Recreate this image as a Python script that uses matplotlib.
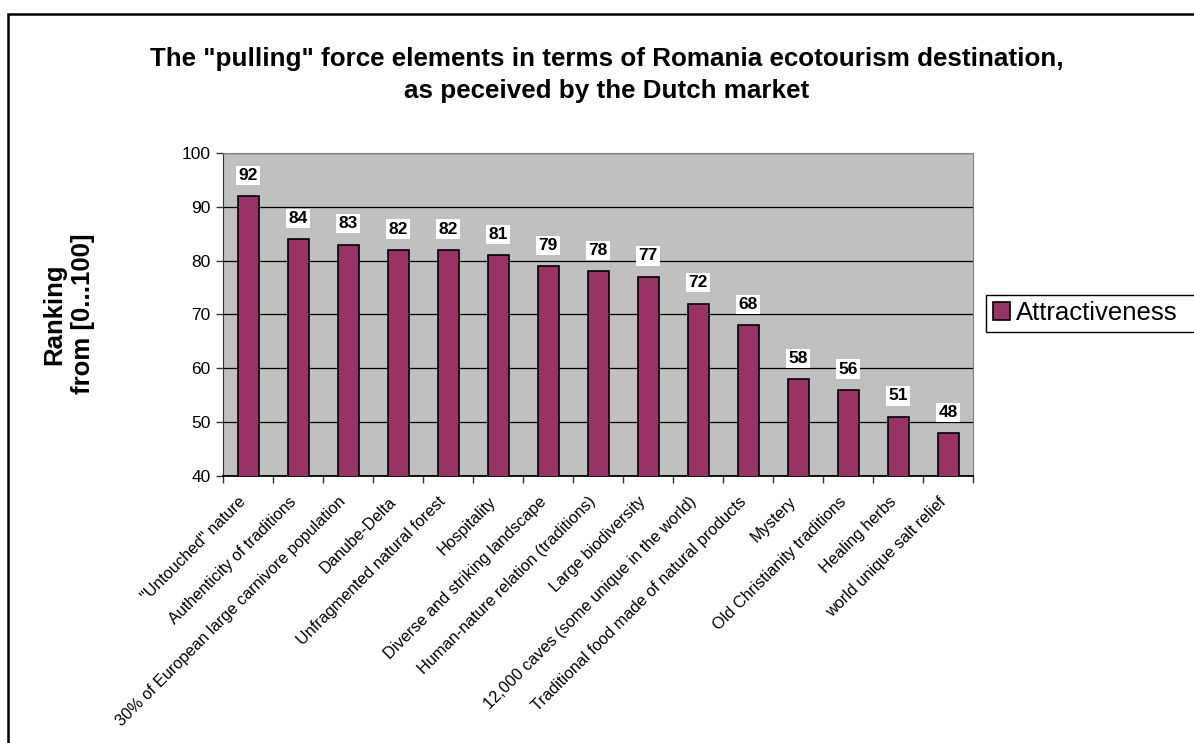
import matplotlib.pyplot as plt
from matplotlib.patches import Rectangle

plt.rcParams['font.family'] = ['Liberation Sans', 'DejaVu Sans']

categories = [
    '"Untouched" nature',
    'Authenticity of traditions',
    '30% of European large carnivore population',
    'Danube-Delta',
    'Unfragmented natural forest',
    'Hospitality',
    'Diverse and striking landscape',
    'Human-nature relation (traditions)',
    'Large biodiversity',
    '12,000 caves (some unique in the world)',
    'Traditional food made of natural products',
    'Mystery',
    'Old Christianity traditions',
    'Healing herbs',
    'world unique salt relief',
]
attractiveness = [92, 84, 83, 82, 82, 81, 79, 78, 77, 72, 68, 58, 56, 51, 48]
y_ticks = [40, 50, 60, 70, 80, 90, 100]

bar_color = '#993366'
plot_bg = '#C0C0C0'

W, H = 1194, 743
fig = plt.figure(figsize=(W / 100, H / 100), dpi=100)
ax = fig.add_axes([223 / W, 1 - 476 / H, 750 / W, 323 / H])
ax.set_facecolor(plot_bg)

# outer frame of the chart
fig.patches.append(Rectangle((8 / W, -0.1), 1.2, 1 - 14 / H + 0.1,
                             transform=fig.transFigure, fill=False,
                             edgecolor='black', linewidth=1.8))

x = list(range(len(categories)))
bars = ax.bar(x, attractiveness, width=0.42, bottom=0, color=bar_color,
              edgecolor='black', linewidth=1.2, zorder=3,
              label='Attractiveness')

ax.set_ylim(40, 100)
ax.set_xlim(-0.5, len(categories) - 0.5)
ax.set_yticks(y_ticks)
ax.set_yticklabels([str(v) for v in y_ticks], fontsize=12.5)
ax.yaxis.grid(True, color='black', linewidth=0.9, zorder=1)
ax.set_axisbelow(True)

# category boundaries carry the x ticks
ax.set_xticks([i - 0.5 for i in range(len(categories) + 1)])
ax.set_xticklabels([])
ax.tick_params(axis='x', direction='out', length=5, width=1, color='#333333')
ax.tick_params(axis='y', direction='out', length=5, width=1, color='#333333',
               pad=4)

for i, name in enumerate(categories):
    ax.annotate(name, xy=(i, 40), xycoords='data', xytext=(-7, -13),
                textcoords='offset points', rotation=45, ha='right',
                va='top', rotation_mode='anchor', fontsize=11.7)

for i, v in enumerate(attractiveness):
    ax.annotate(str(v), xy=(i, v), xytext=(0, 15), textcoords='offset points',
                ha='center', va='center', fontsize=12.5, fontweight='bold',
                bbox=dict(boxstyle='square,pad=0.12', facecolor='white',
                          edgecolor='none'), zorder=5)

ax.spines['left'].set_color('#333333')
ax.spines['bottom'].set_color('black')
ax.spines['bottom'].set_linewidth(1.3)
ax.spines['top'].set_color('#808080')
ax.spines['right'].set_color('#808080')

fig.text(68.5 / W, 1 - 314 / H, 'Ranking\nfrom [0...100]', rotation=90,
         ha='center', va='center', fontsize=18.5, fontweight='bold',
         linespacing=1.25)

fig.text(607 / W, 1 - 75 / H,
         'The "pulling" force elements in terms of Romania ecotourism destination,\n'
         'as peceived by the Dutch market',
         ha='center', va='center', fontsize=18.7, fontweight='bold',
         linespacing=1.4)

# legend box runs off the right edge
fig.patches.append(Rectangle((986 / W, 1 - 332 / H), 0.2, 37 / H,
                             transform=fig.transFigure, facecolor='white',
                             edgecolor='black', linewidth=1.0))
leg = fig.legend(handles=[bars], labels=['Attractiveness'],
                 loc='center left', bbox_to_anchor=(988 / W, 1 - 313 / H),
                 fontsize=18.5, frameon=False,
                 handlelength=0.65, handleheight=0.65, handletextpad=0.25,
                 borderpad=0.2, borderaxespad=0)

fig.savefig('out.png', dpi=100)
